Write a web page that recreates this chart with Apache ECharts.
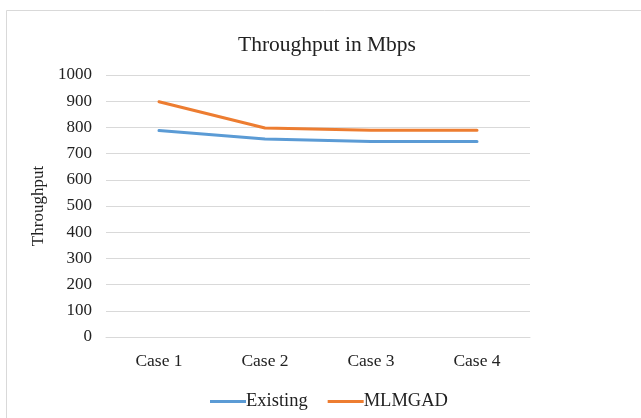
<!DOCTYPE html>
<html>
<head>
<meta charset="utf-8">
<script src="https://cdn.jsdelivr.net/npm/echarts@6/dist/echarts.min.js"></script>
<style>
html,body{margin:0;padding:0;background:#fff;}
#chart{width:641px;height:418px;}
</style>
</head>
<body>
<div id="chart"></div>
<script>
const categories = ['Case 1', 'Case 2', 'Case 3', 'Case 4'];
const existing = [788, 756, 746, 746];
const mlmgad = [898, 798, 789, 789];
const yTicks = [0, 1000, 100];

const font = '"Liberation Serif", "Times New Roman", serif';
const chart = echarts.init(document.getElementById('chart'));
chart.setOption({
  animation: false,
  backgroundColor: '#fff',
  graphic: [{
    type: 'rect',
    shape: { x: 6.5, y: 10.5, width: 640, height: 420 },
    style: { fill: 'none', stroke: '#d9d9d9', lineWidth: 1 }
  }],
  title: {
    text: 'Throughput in Mbps',
    left: 322, top: 29, textAlign: 'center',
    textStyle: { fontFamily: font, fontWeight: 'normal', fontSize: 21.5, color: '#222' }
  },
  legend: {
    data: ['Existing', 'MLMGAD'],
    left: 205, top: 387,
    itemWidth: 36, itemHeight: 3, itemGap: 20,
    icon: 'rect',
    textStyle: { fontFamily: font, fontSize: 18.5, color: '#222', padding: [0, 0, 0, -5] }
  },
  grid: { left: 106, right: 111, top: 75, bottom: 81 },
  xAxis: {
    type: 'category',
    data: categories,
    boundaryGap: true,
    axisLine: { show: true, lineStyle: { color: '#d9d9d9' } },
    axisTick: { show: false },
    axisLabel: { fontFamily: font, fontSize: 17.5, color: '#222', margin: 15 }
  },
  yAxis: {
    type: 'value',
    min: yTicks[0], max: yTicks[1], interval: yTicks[2],
    name: 'Throughput',
    nameLocation: 'middle',
    nameGap: 48,
    nameTextStyle: { fontFamily: font, fontSize: 17, color: '#222' },
    axisLine: { show: false },
    axisTick: { show: false },
    splitLine: { lineStyle: { color: '#d9d9d9' } },
    axisLabel: {
      fontFamily: font, fontSize: 17, color: '#222', margin: 14,
      formatter: (v) => String(v)
    }
  },
  series: [
    {
      name: 'Existing', type: 'line', data: existing,
      symbol: 'none', lineStyle: { width: 3, color: '#5b9bd5', cap: 'round' },
      itemStyle: { color: '#5b9bd5' }
    },
    {
      name: 'MLMGAD', type: 'line', data: mlmgad,
      symbol: 'none', lineStyle: { width: 3, color: '#ed7d31', cap: 'round' },
      itemStyle: { color: '#ed7d31' }
    }
  ]
});
</script>
</body>
</html>
